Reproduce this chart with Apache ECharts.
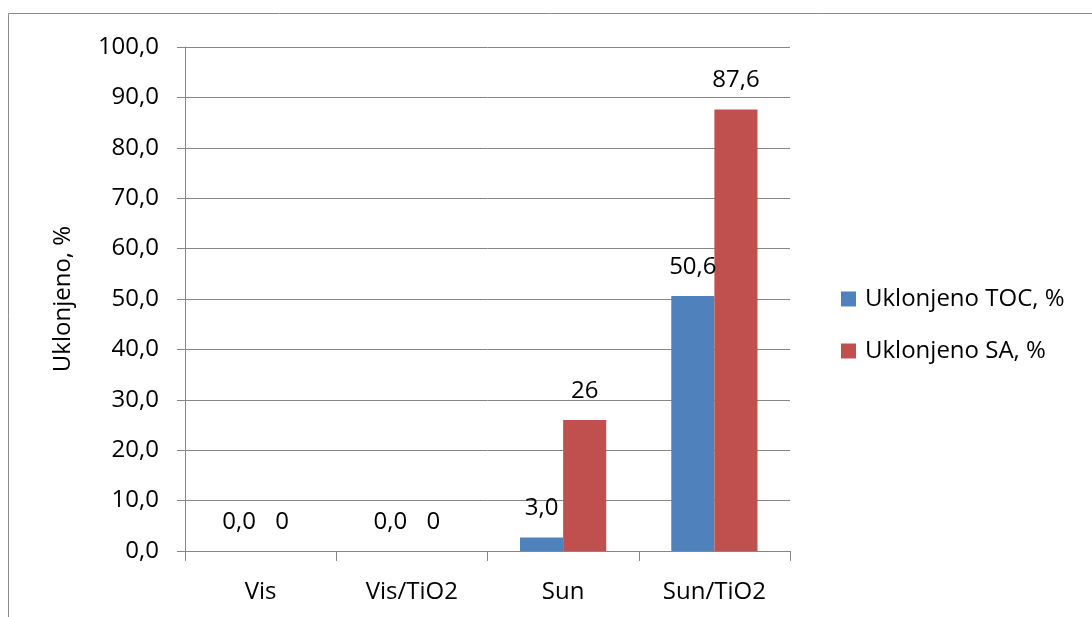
<!DOCTYPE html>
<html>
<head>
<meta charset="utf-8">
<script src="https://cdn.jsdelivr.net/npm/echarts@6/dist/echarts.min.js"></script>
<style>
html,body{margin:0;padding:0;background:#fff;}
#c{width:1092px;height:617px;}
</style>
</head>
<body>
<div id="c"></div>
<script>
var categories = ['Vis', 'Vis/TiO2', 'Sun', 'Sun/TiO2'];
var tocValues = [0, 0, 2.7, 50.6];
var tocLabels = ['0,0', '0,0', '3,0', '50,6'];
var saValues = [0, 0, 26, 87.6];
var saLabels = ['0', '0', '26', '87,6'];
var seriesNames = ['Uklonjeno TOC, %', 'Uklonjeno SA, %'];
var yAxisName = 'Uklonjeno, %';

var FONT = '"Open Sans", "Noto Sans", sans-serif';
var FS = 24;
var chart = echarts.init(document.getElementById('c'), null, {renderer: 'canvas'});
chart.setOption({
  animation: false,
  textStyle: {fontFamily: FONT, color: '#000'},
  graphic: [{
    type: 'rect', shape: {x: 8.5, y: 13.5, width: 1200, height: 700},
    style: {fill: 'none', stroke: '#8c8c8c', lineWidth: 1}, silent: true, z: -10
  }],
  grid: {left: 185, right: 302, top: 47, bottom: 66, containLabel: false},
  legend: {
    orient: 'vertical', left: 836, top: 282, itemWidth: 15, itemHeight: 15, itemGap: 28,
    icon: 'rect',
    textStyle: {fontFamily: FONT, fontSize: FS, color: '#000', padding: [0, 0, 0, 4]},
    data: seriesNames
  },
  xAxis: {
    type: 'category', data: categories,
    axisLine: {lineStyle: {color: '#868686', width: 1}},
    axisTick: {show: true, length: 10, lineStyle: {color: '#868686'}},
    axisLabel: {fontFamily: FONT, fontSize: FS, color: '#000', margin: 29}
  },
  yAxis: {
    type: 'value', min: 0, max: 100, interval: 10,
    name: yAxisName, nameLocation: 'middle', nameGap: 110, nameRotate: 90,
    nameTextStyle: {fontFamily: FONT, fontSize: FS, color: '#000'},
    axisLine: {show: true, lineStyle: {color: '#868686'}},
    axisTick: {show: true, length: 8, lineStyle: {color: '#868686'}},
    axisLabel: {fontFamily: FONT, fontSize: FS, color: '#000', margin: 26,
      formatter: function (v) { return v.toFixed(1).replace('.', ','); }},
    splitLine: {show: true, lineStyle: {color: '#868686', width: 1}}
  },
  series: [{
    name: seriesNames[0], type: 'bar', data: tocValues,
    barGap: '0%', barCategoryGap: '43%',
    itemStyle: {color: '#4F81BD'},
    label: {show: true, position: 'top', distance: 17, fontFamily: FONT, fontSize: FS, color: '#000',
      formatter: function (p) { return tocLabels[p.dataIndex]; }}
  }, {
    name: seriesNames[1], type: 'bar', data: saValues,
    itemStyle: {color: '#C0504D'},
    label: {show: true, position: 'top', distance: 17, fontFamily: FONT, fontSize: FS, color: '#000',
      formatter: function (p) { return saLabels[p.dataIndex]; }}
  }]
});
</script>
</body>
</html>
